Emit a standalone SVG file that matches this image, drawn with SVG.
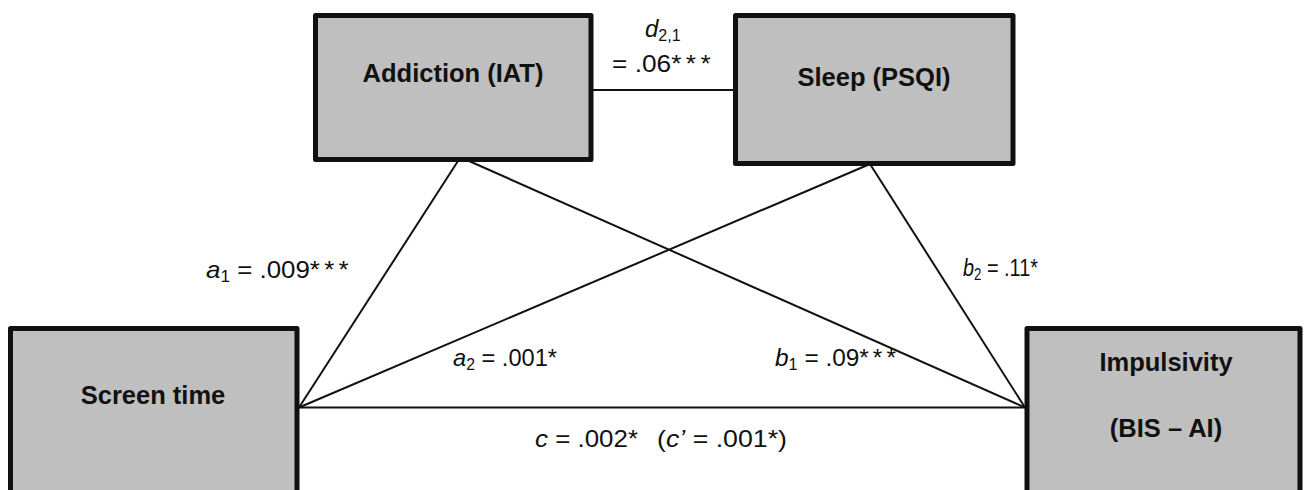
<svg xmlns="http://www.w3.org/2000/svg" width="1304" height="490" viewBox="0 0 1304 490">
<style>
.box{fill:#bfbfbf;stroke:#111;stroke-width:5;stroke-linejoin:round}
.title{font-family:"Liberation Sans",Arial,sans-serif;font-weight:bold;font-size:25.5px;fill:#111;text-anchor:middle}
.lbl{font-family:"Liberation Sans",Arial,sans-serif;font-size:24px;fill:#111}
.it{font-style:italic}
.sub{font-size:16px}
.ast{letter-spacing:4px}
.edge{stroke:#111;stroke-width:2;fill:none}
</style>
<rect width="1304" height="490" fill="#fff"/>
<g id="connectors">
<line class="edge" x1="593" y1="90" x2="733" y2="90"/>
<line class="edge" x1="458" y1="161" x2="299" y2="407.5"/>
<line class="edge" x1="469" y1="161" x2="1025" y2="407.5"/>
<line class="edge" x1="870" y1="164" x2="299" y2="407.5"/>
<line class="edge" x1="870" y1="164" x2="1025" y2="407.5"/>
<line class="edge" x1="299" y1="407.5" x2="1025" y2="407.5"/>
</g>
<g id="labels">
<text class="lbl" x="645" y="37"><tspan class="it">d</tspan><tspan class="sub" dy="4">2,1</tspan></text>
<text class="lbl" x="612" y="72" textLength="103" lengthAdjust="spacingAndGlyphs">= .06<tspan class="ast">***</tspan></text>
<text class="lbl" x="206" y="278" textLength="147" lengthAdjust="spacingAndGlyphs"><tspan class="it">a</tspan><tspan class="sub" dy="4">1</tspan><tspan dy="-4"> = .009</tspan><tspan class="ast">***</tspan></text>
<text class="lbl" x="963" y="276" textLength="75" lengthAdjust="spacingAndGlyphs"><tspan class="it">b</tspan><tspan class="sub" dy="4">2</tspan><tspan dy="-4"> = .11*</tspan></text>
<text class="lbl" x="453" y="366" textLength="104" lengthAdjust="spacingAndGlyphs"><tspan class="it">a</tspan><tspan class="sub" dy="4">2</tspan><tspan dy="-4"> = .001*</tspan></text>
<text class="lbl" x="775" y="366" textLength="125" lengthAdjust="spacingAndGlyphs"><tspan class="it">b</tspan><tspan class="sub" dy="4">1</tspan><tspan dy="-4"> = .09</tspan><tspan class="ast">***</tspan></text>
<text class="lbl" x="535" y="447" textLength="103" lengthAdjust="spacingAndGlyphs"><tspan class="it">c</tspan> = .002*</text>
<text class="lbl" x="657" y="447" textLength="130" lengthAdjust="spacingAndGlyphs">(<tspan class="it">c’</tspan> = .001*)</text>
</g>
<g id="addiction">
<rect class="box" x="315.5" y="15.5" width="275.5" height="144"/>
<text class="title" x="453" y="82">Addiction (IAT)</text>
</g>
<g id="sleep">
<rect class="box" x="735.5" y="15.5" width="277.5" height="148"/>
<text class="title" x="874" y="86">Sleep (PSQI)</text>
</g>
<g id="screen">
<rect class="box" x="10.5" y="328.5" width="286.5" height="180"/>
<text class="title" x="153" y="404">Screen time</text>
</g>
<g id="impulsivity">
<rect class="box" x="1027" y="328.5" width="273" height="180"/>
<text class="title" x="1166" y="371">Impulsivity</text>
<text class="title" x="1166" y="437">(BIS – AI)</text>
</g>
</svg>
